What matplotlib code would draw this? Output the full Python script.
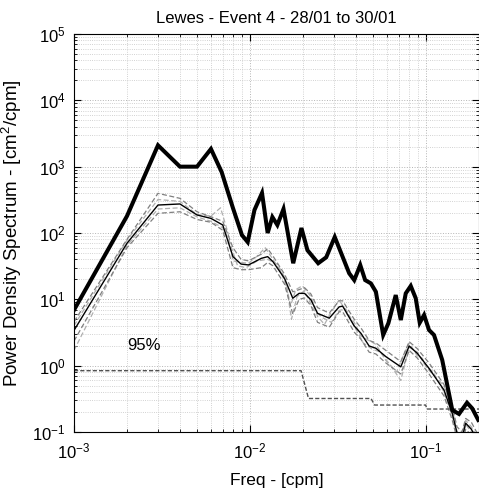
import matplotlib
matplotlib.use("Agg")
import matplotlib.pyplot as plt
from matplotlib.ticker import LogLocator, NullFormatter, LogFormatterMathtext

plt.rcParams['font.family'] = ['Liberation Sans', 'DejaVu Sans']
plt.rcParams['mathtext.fontset'] = 'custom'
plt.rcParams['mathtext.rm'] = 'Liberation Sans'

# Event spectrum (thick line)
freq_event = [0.001, 0.002, 0.003, 0.004, 0.005, 0.006, 0.0069, 0.0080, 0.0090, 0.0097,
              0.0106, 0.0117, 0.0126, 0.0134, 0.0143, 0.0155, 0.0176, 0.0196, 0.0212,
              0.0244, 0.0271, 0.0303, 0.0366, 0.0391, 0.0423, 0.0451, 0.0486, 0.0519,
              0.0571, 0.0611, 0.0673, 0.0719, 0.0767, 0.0819, 0.0874, 0.0921, 0.0975,
              0.104, 0.111, 0.1236, 0.141, 0.154, 0.171, 0.183, 0.198]
psd_event = [6.9, 180, 2100, 1000, 1000, 1850, 830, 238, 93, 73,
             222, 401, 100, 174, 132, 230, 35, 119, 55,
             35, 43, 87, 24.7, 19.5, 32.9, 19.5, 17.4, 13.0,
             2.9, 4.35, 11.6, 4.87, 12.3, 15.9, 10.4, 4.44, 5.8,
             3.45, 2.9, 1.22, 0.214, 0.187, 0.276, 0.227, 0.152]

# Mean spectrum (thin line) and its companions
freq_mean = [0.001, 0.002, 0.003, 0.004, 0.005, 0.006, 0.0070, 0.0080, 0.0089, 0.0098,
             0.0116, 0.0126, 0.0135, 0.0157, 0.0175, 0.0190, 0.0204, 0.0222, 0.0242,
             0.0282, 0.0321, 0.0336, 0.0391, 0.0427, 0.0475, 0.0519, 0.0591, 0.0719,
             0.0802, 0.0893, 0.104, 0.1265, 0.141, 0.150, 0.160, 0.168, 0.181, 0.198]
psd_mean = [3.4, 70, 264, 274, 187, 166, 132, 44, 34, 33,
            41.5, 44, 37, 20.7, 10.4, 12.3, 12.3, 9.8, 6.15,
            5.2, 7.7, 7.9, 3.96, 3.07, 1.98, 1.83, 1.37, 0.96,
            1.98, 1.53, 0.91, 0.43, 0.19, 0.097, 0.08, 0.136, 0.11, 0.07]
psd_upper = [4.6, 80, 396, 333, 209, 176, 150, 60, 40, 38,
             48, 58, 45, 24, 13, 14, 15, 12, 7.5,
             6.2, 9.5, 9.5, 5.0, 3.7, 2.4, 2.2, 1.7, 1.15,
             2.3, 1.8, 1.1, 0.52, 0.24, 0.12, 0.10, 0.16, 0.14, 0.09]
psd_lower = [2.35, 60, 198, 209, 160, 145, 110, 30, 28, 28,
             30, 36, 32, 17, 6.0, 10, 10.5, 8.0, 4.5,
             3.8, 6.5, 6.5, 3.2, 2.5, 1.6, 1.5, 1.1, 0.75,
             1.7, 1.3, 0.75, 0.35, 0.15, 0.08, 0.065, 0.11, 0.09, 0.06]

freq_run1 = [0.001, 0.002, 0.003, 0.004, 0.005, 0.006, 0.0068, 0.0075, 0.0080, 0.0089,
             0.0098, 0.0110, 0.0122, 0.0135, 0.0157, 0.0170, 0.0182, 0.0198, 0.0222,
             0.0242, 0.0265, 0.0290, 0.0321, 0.0360, 0.0391, 0.0427, 0.0460, 0.0519,
             0.0591, 0.0680, 0.0750, 0.0802, 0.0893, 0.0950, 0.104, 0.1265, 0.141,
             0.150, 0.160, 0.168, 0.181, 0.198]
psd_run1 = [4.0, 78, 320, 300, 190, 180, 240, 100, 38, 36,
            35, 45, 60, 40, 22, 8.0, 14, 16, 11,
            5.5, 4.2, 6.5, 9.8, 6.0, 4.5, 2.8, 2.5, 2.1,
            1.2, 0.8, 1.5, 2.2, 1.4, 1.3, 0.85, 0.5, 0.22,
            0.10, 0.09, 0.15, 0.12, 0.08]

freq_run2 = [0.001, 0.002, 0.003, 0.004, 0.005, 0.006, 0.007, 0.0077, 0.0085, 0.0095,
             0.0110, 0.0126, 0.0145, 0.0162, 0.0172, 0.0185, 0.0204, 0.0230, 0.0255,
             0.0290, 0.0321, 0.0350, 0.0400, 0.0440, 0.0490, 0.0550, 0.0630, 0.0719,
             0.0802, 0.0893, 0.0980, 0.110, 0.1265, 0.141, 0.150, 0.160, 0.168,
             0.181, 0.198]
psd_run2 = [1.7, 65, 230, 240, 175, 150, 120, 70, 32, 30,
            38, 40, 33, 15, 5.0, 11, 13.5, 7.0, 5.4,
            4.5, 6.8, 7.2, 3.5, 2.2, 1.8, 1.6, 1.0, 0.6,
            1.9, 1.6, 1.05, 0.8, 0.4, 0.17, 0.09, 0.075, 0.13,
            0.10, 0.065]

# 95% confidence level
freq_conf = [0.001, 0.0195, 0.0215, 0.0487, 0.0510, 0.0996, 0.101, 0.2]
psd_conf = [0.84, 0.84, 0.32, 0.32, 0.255, 0.255, 0.222, 0.222]

fig = plt.figure(figsize=(4.79, 4.92), dpi=100)
ax = fig.add_axes([74 / 479, 60 / 492, 405 / 479, 398 / 492])

ax.plot(freq_run1, psd_run1, color='#b0b0b0', lw=0.9, ls=(0, (4, 2)))
ax.plot(freq_run2, psd_run2, color='#b0b0b0', lw=0.9, ls=(0, (4, 2)))
ax.plot(freq_mean, psd_upper, color='#808080', lw=0.9, ls=(0, (4, 2)))
ax.plot(freq_mean, psd_lower, color='#808080', lw=0.9, ls=(0, (4, 2)))
ax.plot(freq_mean, psd_mean, color='black', lw=1.0)
ax.plot(freq_conf, psd_conf, color='#505050', lw=1.0, ls=(0, (3, 1.5)))
ax.plot(freq_event, psd_event, color='black', lw=2.9, solid_joinstyle='miter')

ax.text(0.0025, 1.98, '95%', fontsize=12, ha='center', va='center')

ax.set_xscale('log')
ax.set_yscale('log')
ax.set_xlim(1e-3, 0.2)
ax.set_ylim(1e-1, 1e5)

ax.xaxis.set_major_locator(LogLocator(base=10, numticks=10))
ax.yaxis.set_major_locator(LogLocator(base=10, numticks=10))
ax.xaxis.set_minor_locator(LogLocator(base=10, subs=range(2, 10), numticks=20))
ax.yaxis.set_minor_locator(LogLocator(base=10, subs=range(2, 10), numticks=20))
ax.xaxis.set_minor_formatter(NullFormatter())
ax.yaxis.set_minor_formatter(NullFormatter())
ax.xaxis.set_major_formatter(LogFormatterMathtext())
ax.yaxis.set_major_formatter(LogFormatterMathtext())

ax.grid(True, which='major', color='#b4b4b4', ls=':', lw=0.7)
ax.grid(True, which='minor', color='#c4c4c4', ls=':', lw=0.6)
ax.set_axisbelow(True)

ax.tick_params(which='both', direction='in', top=True, right=True, labelsize=12)
ax.tick_params(which='major', length=5, width=0.8)
ax.tick_params(which='minor', length=2.5, width=0.6)
ax.tick_params(axis='x', pad=7)
ax.tick_params(axis='y', pad=6)
for s in ax.spines.values():
    s.set_linewidth(0.8)

ax.set_title('Lewes - Event 4 - 28/01 to 30/01', fontsize=12, pad=8)
ax.set_xlabel('Freq - [cpm]', fontsize=12.5, labelpad=8)
ax.set_ylabel('Power Density Spectrum - [cm$^2$/cpm]', fontsize=13.5, labelpad=6)

fig.savefig('out.png', dpi=100)
